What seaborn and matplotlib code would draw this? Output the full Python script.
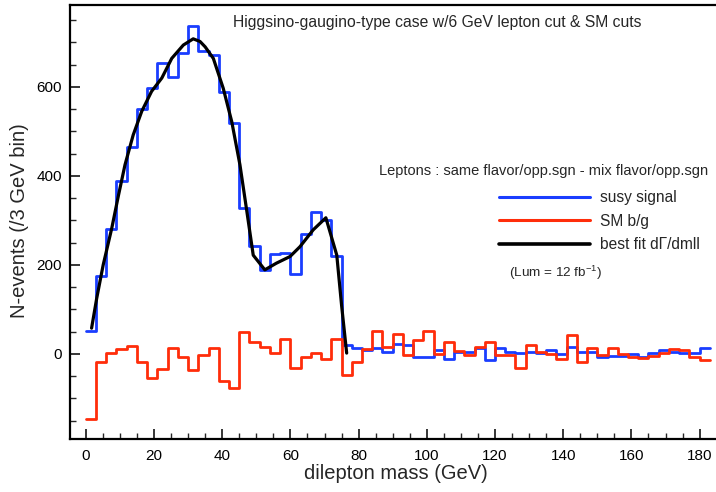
import numpy as np
import pandas as pd
import matplotlib
matplotlib.use("Agg")
import matplotlib.pyplot as plt
from matplotlib.lines import Line2D
from matplotlib.ticker import MultipleLocator
import seaborn as sns

# 3 GeV bins from 0 to 183 GeV
bin_width = 3.0
n_bins = 61

# signal (same flavor - mixed flavor), events per bin
susy_signal = [52, 175, 281, 389, 466, 550, 598, 653, 623, 676,
               737, 680, 672, 588, 518, 327, 243, 189, 225, 227,
               179, 270, 318, 301, 221, 20, 13, 9, 13, 4,
               22, 20, -6, -6, 10, -11, 4, 5, 13, -13,
               13, 5, 3, 5, 2, 10, 0, 15, 4, 4,
               -6, -4, -4, -1, -6, 2, 8, 5, 2, 2,
               13]

# SM background (same flavor - mixed flavor), events per bin
sm_background = [-146, -19, 3, 11, 19, -18, -55, -33, 13, -6,
                 -37, -2, 13, -61, -77, 49, 28, 15, 2, 34,
                 -32, -7, 3, -12, 33, -47, -17, 12, 51, 16,
                 44, -3, 31, 52, 1, 28, 7, -2, 15, 28,
                 -2, -2, -32, 20, 5, 1, -11, 43, -17, 13,
                 -2, 13, 1, -7, -10, -4, 3, 11, 9, -6,
                 -13]

# best-fit dGamma/dmll curve
fit_mass = [1.7, 3.2, 5.1, 7.6, 9.6, 11.5, 13.9, 16.4, 19.3, 22.3,
            25.2, 28.6, 31.5, 33.5, 35.0, 37.4, 40.3, 42.8, 45.2, 47.1,
            49.1, 52.5, 55.9, 59.9, 62.8, 66.7, 70.4, 73.6, 75.0, 76.5]
fit_events = [58, 125, 200, 282, 357, 425, 492, 545, 590, 620,
              664, 694, 708, 702, 690, 664, 597, 522, 425, 327,
              222, 189, 204, 219, 241, 279, 306, 222, 110, 2]

x_ticks = [0, 20, 40, 60, 80, 100, 120, 140, 160, 180]
y_ticks = [0, 200, 400, 600]

edges = np.arange(n_bins + 1) * bin_width


def step_frame(values):
    # left edge of every bin plus the closing right edge
    return pd.DataFrame({"mass": edges, "events": list(values) + [values[-1]]})


sig_df = step_frame(susy_signal)
bkg_df = step_frame(sm_background)
fit_df = pd.DataFrame({"mass": fit_mass, "events": fit_events})

sns.set_theme(style="ticks")
plt.rcParams["font.family"] = ["Liberation Sans", "DejaVu Sans"]
plt.rcParams["mathtext.fontset"] = "custom"
plt.rcParams["mathtext.rm"] = "Liberation Sans"

BLUE = "#1a3dff"
RED = "#ff2d0a"

W, H = 716, 492
AX_L, AX_B, AX_T = 70, 439, 5          # pixel positions of the frame
fig = plt.figure(figsize=(W / 100, H / 100), dpi=100)
ax = fig.add_axes([AX_L / W, (H - AX_B) / H, (W - AX_L) / W, (AX_B - AX_T) / H])

sns.lineplot(data=sig_df, x="mass", y="events", drawstyle="steps-post",
             color=BLUE, linewidth=2.0, estimator=None, sort=False, ax=ax)
sns.lineplot(data=bkg_df, x="mass", y="events", drawstyle="steps-post",
             color=RED, linewidth=2.0, estimator=None, sort=False, ax=ax)
sns.lineplot(data=fit_df, x="mass", y="events", color="black", linewidth=2.3,
             estimator=None, sort=False, ax=ax)

ax.set_xlim(-4.63, 184.8)
ax.set_ylim(-191, 784)
ax.set_xticks(x_ticks)
ax.set_yticks(y_ticks)
ax.xaxis.set_minor_locator(MultipleLocator(5))
ax.yaxis.set_minor_locator(MultipleLocator(50))
ax.tick_params(axis="both", which="major", direction="in", length=7.5, width=1.1,
               labelsize=11, colors="black")
ax.tick_params(axis="both", which="minor", direction="in", length=4, width=1.0)
ax.tick_params(axis="x", pad=7)
ax.tick_params(axis="y", pad=6)
for side in ("left", "bottom", "top"):
    ax.spines[side].set_linewidth(1.6)
    ax.spines[side].set_color("black")
ax.spines["right"].set_visible(False)

ax_w, ax_h = W - AX_L, AX_B - AX_T
ax.set_xlabel("dilepton mass (GeV)", fontsize=14.5)
ax.xaxis.set_label_coords((396 - AX_L) / ax_w, (AX_B - 464) / ax_h)
ax.set_ylabel("N-events (/3 GeV bin)", fontsize=14.5)
ax.yaxis.set_label_coords((29 - AX_L) / ax_w, (AX_B - 221) / ax_h)

fig.text(437 / W, 1 - 23 / H, "Higgsino-gaugino-type case w/6 GeV lepton cut & SM cuts",
         ha="center", va="center", fontsize=11.3)
fig.text(544 / W, 1 - 171 / H, "Leptons : same flavor/opp.sgn - mix flavor/opp.sgn",
         ha="center", va="center", fontsize=10.5)
fig.text(556 / W, 1 - 273 / H, r"(Lum = 12 fb$^{\rm {-}1}$)",
         ha="center", va="center", fontsize=9.7)

handles = [Line2D([], [], color=BLUE, linewidth=2.2),
           Line2D([], [], color=RED, linewidth=2.2),
           Line2D([], [], color="black", linewidth=2.6)]
labels = ["susy signal", "SM b/g", "best fit d\u0393/dmll"]
ax.legend(handles, labels, loc="upper left", bbox_to_anchor=(499 / W, 1 - 190 / H),
          bbox_transform=fig.transFigure, frameon=False, fontsize=11.2,
          handlelength=5.85, handletextpad=0.64, labelspacing=0.56,
          borderpad=0, borderaxespad=0)

fig.savefig("out.png", dpi=100)
